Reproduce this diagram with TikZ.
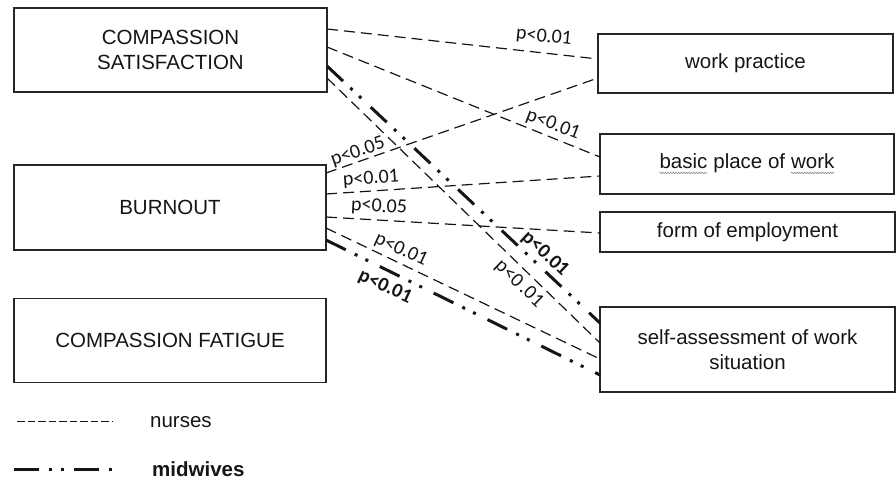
\documentclass[tikz,border=0pt]{standalone}
\usepackage{fontspec}
\usetikzlibrary{calc,decorations.pathmorphing}
\newfontfamily\boxfam{Liberation Sans}
\newfontfamily\labfam{Carlito}
\newcommand\bxf{\boxfam\fontsize{20.5pt}{25pt}\selectfont}
\newcommand\lbf{\labfam\fontsize{20pt}{24pt}\selectfont}
\newcommand\graywave[1]{\tikz[baseline=(wt.base)]{\node[draw=none, minimum width=0pt, minimum height=0pt, inner sep=0pt, outer sep=0pt, align=left] (wt) {#1};
  \draw[gray, line width=0.5pt, solid, decorate, decoration={zigzag, amplitude=0.8pt, segment length=2.6pt}] ([yshift=-4pt]wt.base west) -- ([yshift=-4pt]wt.base east);}}
\definecolor{boxc}{HTML}{262626}
\definecolor{txt}{HTML}{151515}
\begin{document}
\begin{tikzpicture}[x=1pt,y=-1pt,
  box/.style={draw=boxc, line width=1.4pt, inner sep=0pt, outer sep=0pt, font=\bxf, text=txt, align=center},
  nurse/.style={line width=1.2pt, dash pattern=on 11pt off 6pt, draw=txt},
  midwife/.style={line width=3pt, dash pattern=on 22pt off 10pt on 3pt off 9pt on 3pt off 13pt, draw=txt},
  lab/.style={font=\lbf, text=txt, inner sep=0pt},
  blab/.style={font=\lbf\bfseries, text=txt, inner sep=0pt},
  legtxt/.style={font=\bxf, text=txt, inner sep=0pt, anchor=base west}]
\useasboundingbox (0,0) rectangle (896,479);
% left boxes
\node[box, minimum width=313pt, minimum height=84pt] (cs) at (170.5,50) {COMPASSION\\SATISFACTION};
\node[box, minimum width=312pt, minimum height=85pt] (bo) at (170,207.5) {BURNOUT};
\node[box, minimum width=312pt, minimum height=84pt] (cf) at (170,340.5) {COMPASSION FATIGUE};
% right boxes
\node[box, minimum width=295pt, minimum height=59pt] (wp) at (745.5,63.5) {work practice};
\node[box, minimum width=294pt, minimum height=60pt] (bp) at (747,164) {\graywave{basic} place of \graywave{work}};
\node[box, minimum width=295pt, minimum height=40pt] (fe) at (747.5,232) {form of employment};
\node[box, minimum width=295pt, minimum height=85pt] (sa) at (747.5,349.5) {self-assessment of work\\situation};
% nurses connectors
\draw[nurse] ($(cs.north east)+(0,21)$) -- ($(wp.north west)+(0,25)$);
\draw[nurse] ($(cs.north east)+(0,39)$) -- ($(bp.north west)+(0,23)$);
\draw[nurse] ($(cs.north east)+(0,70)$) -- ($(sa.north west)+(0,36)$);
\draw[nurse] ($(bo.north east)+(0,8)$) -- ($(wp.north west)+(0,44)$);
\draw[nurse] ($(bo.north east)+(0,29)$) -- ($(bp.north west)+(0,42)$);
\draw[nurse] ($(bo.north east)+(0,52)$) -- ($(fe.north west)+(0,21)$);
\draw[nurse] ($(bo.north east)+(0,63)$) -- ($(sa.north west)+(0,52)$);
% midwives connectors
\draw[midwife] ($(cs.north east)+(0,58)$) -- ($(sa.north west)+(0,16)$);
\draw[midwife] ($(bo.north east)+(0,75)$) -- ($(sa.north west)+(0,68)$);
% labels
\node[lab, rotate=-6] (l1) at (544,37) {p<0.01};
\node[lab, rotate=-21] (l2) at (553,125) {p<0.01};
\node[lab, rotate=19] (l3) at (358,152) {p<0.05};
\node[lab, rotate=4] (l4) at (371,179) {p<0.01};
\node[lab, rotate=-3] (l5) at (379,207) {p<0.05};
\node[lab, rotate=-25] (l6) at (401,250) {p<0.01};
\node[blab, rotate=-25] (l7) at (385,287) {p<0.01};
\node[blab, rotate=-43] (l8) at (545,254) {p<0.01};
\node[lab, rotate=-44] (l9) at (519,284) {p<0\,.01};
% legend
\coordinate (n1) at (17,421);
\coordinate (n2) at (112,421);
\draw[line width=1pt, dash pattern=on 7.5pt off 3pt, draw=txt] (n1) -- (n2);
\node[legtxt] (nt) at (150,427) {nurses};
\coordinate (m1) at (14,469);
\coordinate (m2) at (112,469);
\draw[line width=3pt, dash pattern=on 25pt off 10pt on 3pt off 9pt on 3pt off 10pt, draw=txt] (m1) -- (m2);
\node[legtxt, font=\bxf\bfseries] (mt) at (152,476) {midwives};
\end{tikzpicture}
\end{document}
